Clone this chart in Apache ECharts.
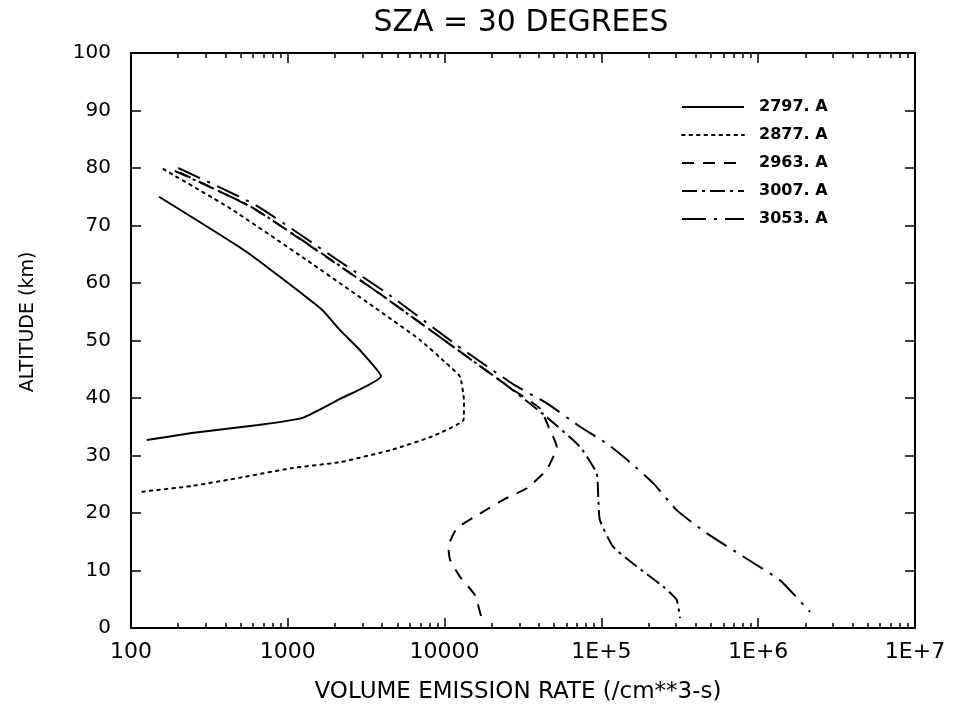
<!DOCTYPE html>
<html>
<head>
<meta charset="utf-8">
<script src="https://cdn.jsdelivr.net/npm/echarts@6/dist/echarts.min.js"></script>
<style>html,body{margin:0;padding:0;background:#fff}#c{width:953px;height:710px}</style>
</head>
<body>
<div id="c"></div>
<script>
// ---- data ----
const seriesNames = ['2797. A', '2877. A', '2963. A', '3007. A', '3053. A'];

const rate2797 = [151, 547, 1645, 2153, 2890, 3930, 2100, 1226, 649, 244, 126];
const alt2797  = [75.0, 65.4, 55.4, 51.8, 48.3, 43.8, 39.7, 36.5, 35.3, 33.9, 32.7];

const rate2877 = [161, 428, 1318, 3510, 6970, 10300, 12540, 13300, 13200, 8280, 4600, 2208, 1059, 508, 244, 117];
const alt2877  = [79.8, 73.0, 64.0, 55.9, 50.1, 46.0, 43.7, 39.4, 36.2, 33.3, 31.0, 28.9, 27.8, 26.2, 24.7, 23.7];

const rate2963 = [205, 603, 1950, 4270, 11370, 27400, 40500, 46000, 51900, 44700, 33400, 23660, 16820, 11940, 10570, 10840, 12540, 15630, 17200];
const alt2963  = [79.2, 73.0, 63.7, 57.3, 48.9, 41.4, 38.2, 35.0, 31.5, 27.5, 24.3, 22.3, 19.9, 17.3, 14.1, 11.8, 8.9, 5.7, 1.7];

const rate3007 = [190, 580, 1900, 4100, 11000, 26000, 44700, 73100, 93300, 95500, 97700, 119000, 168000, 248000, 302000, 317000];
const alt3007  = [79.5, 73.3, 64.0, 57.6, 49.2, 41.8, 36.7, 31.5, 26.9, 22.8, 18.8, 14.1, 10.7, 7.2, 4.9, 1.7];

const rate3053 = [200, 620, 2000, 4400, 11800, 27000, 44700, 73100, 108000, 151000, 214000, 302000, 468000, 933000, 1380000, 2140000];
const alt3053  = [80.0, 73.6, 64.3, 58.0, 49.3, 42.5, 39.1, 35.0, 32.1, 28.9, 25.2, 20.5, 16.5, 11.3, 8.3, 2.8];

const xTickValues = [100, 1000, 10000, 100000, 1000000, 10000000];
const xTickLabels = ['100', '1000', '10000', '1E+5', '1E+6', '1E+7'];
const minorDecades = [100, 1000, 10000, 100000, 1000000];
const minorMultipliers = [2, 3, 4, 5, 6, 7, 8, 9];
const yTickLabels = ['0', '10', '20', '30', '40', '50', '60', '70', '80', '90', '100'];

// ---- build ----
const pairs = (r, a) => r.map((v, i) => [v, a[i]]);
const rates = [rate2797, rate2877, rate2963, rate3007, rate3053];
const alts = [alt2797, alt2877, alt2963, alt3007, alt3053];
const dashes = ['solid', [2.5, 5], [12, 9], [15, 5, 3, 5], [24, 8, 3, 8]];
const caps = ['butt', 'round', 'butt', 'butt', 'butt'];

const minorTickValues = [];
minorDecades.forEach(d => minorMultipliers.forEach(m => minorTickValues.push(d * m)));

const FONT = '"DejaVu Sans", sans-serif';

const xAxisBase = {
  type: 'log', logBase: 10, min: 100, max: 10000000, gridIndex: 0,
  axisLine: { show: true, onZero: false, lineStyle: { color: '#000', width: 2 } },
  axisTick: { show: true, inside: true, length: 10, lineStyle: { color: '#000', width: 1.5 } },
  splitLine: { show: false }, minorTick: { show: false }
};
const xMinorBase = {
  type: 'log', logBase: 10, min: 100, max: 10000000, gridIndex: 0,
  axisLine: { show: false, onZero: false },
  axisLabel: { show: false },
  axisTick: { show: true, inside: true, length: 5, customValues: minorTickValues, lineStyle: { color: '#000', width: 1.5 } },
  splitLine: { show: false }
};
const yAxisBase = {
  type: 'value', min: 0, max: 100, interval: 10,
  axisLine: { show: true, onZero: false, lineStyle: { color: '#000', width: 2 } },
  axisTick: { show: true, inside: true, length: 10, lineStyle: { color: '#000', width: 1.5 } },
  splitLine: { show: false }
};

const series = seriesNames.map((n, i) => ({
  name: n, type: 'line', xAxisIndex: 0, yAxisIndex: 0,
  data: pairs(rates[i], alts[i]),
  symbol: 'none', smooth: 0.15,
  lineStyle: { color: '#000', width: 2, type: dashes[i], cap: caps[i] },
  itemStyle: { color: '#000' },
  emphasis: { disabled: true }
}));

const option = {
  animation: false,
  backgroundColor: '#fff',
  title: {
    text: 'SZA = 30 DEGREES', left: 516, top: 3, textAlign: 'center',
    textStyle: { fontFamily: FONT, fontSize: 30, fontWeight: 'normal', color: '#000' }
  },
  grid: { left: 131, right: 38, top: 53, bottom: 82, containLabel: false },
  legend: {
    data: seriesNames, orient: 'vertical', left: 676, top: 94,
    itemWidth: 62, itemHeight: 14, itemGap: 12,
    itemStyle: { opacity: 0 },
    textStyle: { fontFamily: FONT, fontSize: 16, fontWeight: 'bold', color: '#000', padding: [0, 0, 0, 10] },
    selectedMode: false
  },
  xAxis: [
    Object.assign({}, xAxisBase, {
      position: 'bottom',
      axisLabel: {
        show: true, margin: 13, color: '#000', fontFamily: FONT, fontSize: 22,
        formatter: function (v) {
          const idx = xTickValues.findIndex(t => Math.abs(Math.log10(t) - Math.log10(v)) < 1e-6);
          return idx >= 0 ? xTickLabels[idx] : '';
        }
      }
    }),
    Object.assign({}, xAxisBase, { position: 'top', axisLabel: { show: false } }),
    Object.assign({}, xMinorBase, { position: 'bottom' }),
    Object.assign({}, xMinorBase, { position: 'top' })
  ],
  yAxis: [
    Object.assign({}, yAxisBase, {
      position: 'left',
      axisLabel: {
        show: true, margin: 20, color: '#000', fontFamily: FONT, fontSize: 20,
        formatter: function (v) { return yTickLabels[Math.round(v / 10)]; }
      }
    }),
    Object.assign({}, yAxisBase, { position: 'right', axisLabel: { show: false } })
  ],
  graphic: [
    { type: 'text', x: 518, y: 692, style: { text: 'VOLUME EMISSION RATE (/cm**3-s)', fill: '#000', font: '23px ' + FONT, align: 'center', verticalAlign: 'middle' } },
    { type: 'text', x: 28, y: 322, rotation: Math.PI / 2, style: { text: 'ALTITUDE (km)', fill: '#000', font: '19px ' + FONT, align: 'center', verticalAlign: 'middle' } }
  ],
  series: series
};

const chart = echarts.init(document.getElementById('c'), null, { renderer: 'canvas' });
chart.setOption(option);
</script>
</body>
</html>
